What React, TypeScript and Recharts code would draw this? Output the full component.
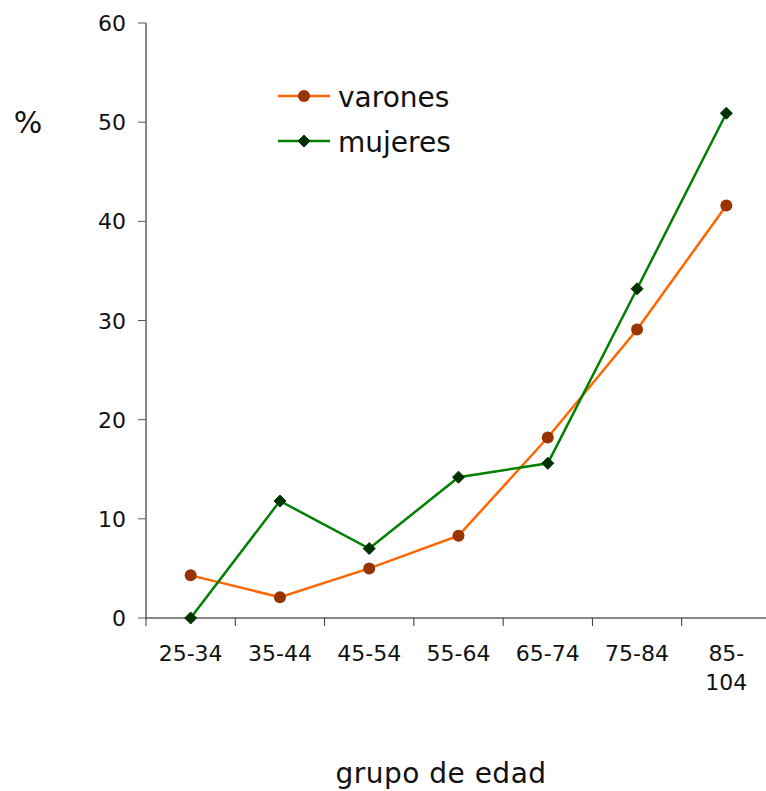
import React from 'react';
import { LineChart, Line, XAxis, YAxis, Legend, Label } from 'recharts';

const ageGroups = ['25-34', '35-44', '45-54', '55-64', '65-74', '75-84', '85-104'];
const varones = [4.3, 2.1, 5.0, 8.3, 18.2, 29.1, 41.6];
const mujeres = [0.0, 11.8, 7.0, 14.2, 15.6, 33.2, 50.9];
const yTicks = [0, 10, 20, 30, 40, 50, 60];

const data = ageGroups.map((g, i) => ({ grupo: g, varones: varones[i], mujeres: mujeres[i] }));

const FONT = '"DejaVu Sans", Verdana, sans-serif';
const ORANGE = '#FF6600';
const BROWN = '#993300';
const GREEN = '#008000';
const DARKGREEN = '#003300';
const INK = '#111';

const Diamond = (props: any) => {
  const { cx, cy } = props;
  if (cx == null || cy == null) return null;
  const s = 6;
  return (
    <path
      d={`M${cx},${cy - s} L${cx + s},${cy} L${cx},${cy + s} L${cx - s},${cy} Z`}
      fill={DARKGREEN}
      stroke={DARKGREEN}
      strokeWidth={1}
    />
  );
};

// Category labels sit in the middle of each band; tick marks go on the band edges.
const XTick = (props: any) => {
  const { x, y, payload, index, width, visibleTicksCount } = props;
  const bw = width / visibleTicksCount;
  const v: string = payload.value;
  const cut = v.indexOf('-') + 1;
  const lines = v.length > 5 ? [v.slice(0, cut), v.slice(cut)] : [v];
  return (
    <g>
      <line x1={x - bw / 2} x2={x - bw / 2} y1={y} y2={y + 8} stroke="#333" />
      {index === visibleTicksCount - 1 && (
        <line x1={x + bw / 2} x2={x + bw / 2} y1={y} y2={y + 8} stroke="#333" />
      )}
      {lines.map((l, i) => (
        <text
          key={i}
          x={x}
          y={y + 43 + i * 29}
          textAnchor="middle"
          fontFamily={FONT}
          fontSize={22}
          fill={INK}
        >
          {l}
        </text>
      ))}
    </g>
  );
};

const YTick = (props: any) => {
  const { x, y, payload } = props;
  return (
    <text x={x} y={y + 8} textAnchor="end" fontFamily={FONT} fontSize={22} fill={INK}>
      {payload.value}
    </text>
  );
};

const LegendContent = () => {
  const items = [
    { name: 'varones', line: ORANGE, kind: 'circle' },
    { name: 'mujeres', line: GREEN, kind: 'diamond' },
  ];
  return (
    <svg width={240} height={100} style={{ display: 'block', overflow: 'visible' }}>
      {items.map((it, i) => {
        const cy = 11 + i * 45;
        return (
          <g key={it.name}>
            <line x1={0} x2={52} y1={cy} y2={cy} stroke={it.line} strokeWidth={2.5} />
            {it.kind === 'circle' ? (
              <circle cx={26} cy={cy} r={6} fill={BROWN} />
            ) : (
              <Diamond cx={26} cy={cy} />
            )}
            <text x={60} y={cy + 11} fontFamily={FONT} fontSize={28} fill={INK}>
              {it.name}
            </text>
          </g>
        );
      })}
    </svg>
  );
};

export default function App() {
  return (
    <div style={{ position: 'absolute', left: 0, top: 0, width: 766, height: 791, overflow: 'hidden', background: '#fff' }}>
      <LineChart width={780} height={791} data={data} margin={{ top: 23, right: 9, bottom: 0, left: 0 }}>
        <XAxis
          dataKey="grupo"
          scale="band"
          height={173}
          tick={<XTick />}
          tickLine={false}
          axisLine={{ stroke: INK }}
          tickSize={0}
          tickMargin={0}
          interval={0}
        >
          <Label
            content={() => (
              <text x={441} y={783} textAnchor="middle" fontFamily={FONT} fontSize={28} letterSpacing={0.5} fill={INK}>
                grupo de edad
              </text>
            )}
          />
        </XAxis>
        <YAxis
          width={146}
          domain={[0, 60]}
          ticks={yTicks}
          tick={<YTick />}
          tickLine={{ stroke: '#555' }}
          axisLine={{ stroke: INK }}
          tickSize={8}
          tickMargin={12}
        >
          <Label
            content={() => (
              <text x={28} y={133} textAnchor="middle" fontFamily={FONT} fontSize={30} fill={INK}>
                %
              </text>
            )}
          />
        </YAxis>
        <Legend
          layout="vertical"
          verticalAlign="middle"
          align="center"
          content={<LegendContent />}
          wrapperStyle={{ position: 'absolute', left: 278, top: 85, width: 240, height: 100 }}
        />
        <Line
          type="linear"
          dataKey="varones"
          stroke={ORANGE}
          strokeWidth={2.5}
          dot={{ r: 6, fill: BROWN, stroke: BROWN, strokeWidth: 0 }}
          isAnimationActive={false}
        />
        <Line
          type="linear"
          dataKey="mujeres"
          stroke={GREEN}
          strokeWidth={2.5}
          dot={<Diamond />}
          isAnimationActive={false}
        />
      </LineChart>
    </div>
  );
}
